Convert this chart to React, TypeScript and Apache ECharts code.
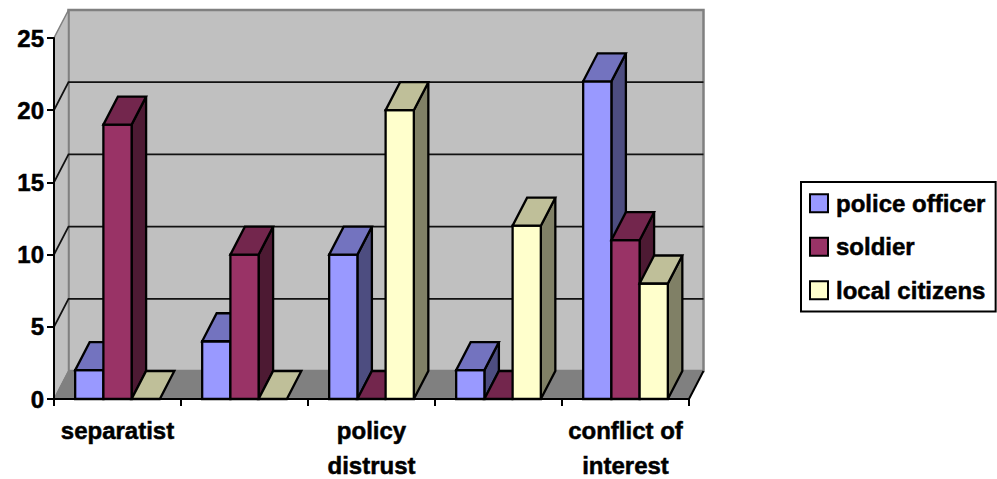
import React, { useEffect, useRef } from "react";
import * as echarts from "echarts";

const categories = ["separatist", "", "policy\ndistrust", "", "conflict of\ninterest"];
const policeOfficer = [2, 4, 10, 2, 22];
const soldier = [19, 10, 0, 0, 11];
const localCitizens = [0, 0, 20, 12, 8];
const innerGridValues = [5, 10, 15, 20];
const axisMax = 25;
const axisStep = 5;

const FONT = "Liberation Sans";
const DEPTH_X = 14.5;
const DEPTH_Y = 28;
const BAR_SLOTS = 4.5;
const OUTLINE = "#000000";
const OUTLINE_WIDTH = 2.3;

type Shade = { front: string; side: string; top: string };
const shades: Shade[] = [
  { front: "#9999ff", side: "#4d4d80", top: "#7373bf" },
  { front: "#993366", side: "#4d1a33", top: "#73264d" },
  { front: "#ffffcc", side: "#808066", top: "#bfbf99" },
];

const boldText = {
  color: "#000000",
  fontFamily: FONT,
  fontWeight: "bold",
  fontSize: 24,
  textBorderColor: "#000000",
  textBorderWidth: 0.5,
};

const poly = (points: number[][], fill: string, stroke: string, lineWidth: number) => ({
  type: "polygon",
  shape: { points },
  silent: true,
  style: { fill, stroke, lineWidth, lineJoin: "miter" },
});

// Side wall, floor and back wall of the box behind the bars.
const renderWalls = (_: any, api: any) => {
  const band = api.size([1, 0])[0];
  const left = api.coord([0, 0])[0] - band / 2;
  const right = api.coord([categories.length - 1, 0])[0] + band / 2;
  const bottom = api.coord([0, 0])[1];
  const top = api.coord([0, axisMax])[1];
  const gray = "#c0c0c0";
  const edge = "#808080";
  return {
    type: "group",
    children: [
      poly(
        [[left + DEPTH_X, bottom - DEPTH_Y], [right + DEPTH_X, bottom - DEPTH_Y], [right + DEPTH_X, top - DEPTH_Y], [left + DEPTH_X, top - DEPTH_Y]],
        gray, edge, 2.5
      ),
      poly(
        [[left, bottom], [left + DEPTH_X, bottom - DEPTH_Y], [left + DEPTH_X, top - DEPTH_Y], [left, top]],
        gray, edge, 1.5
      ),
      poly(
        [[left, bottom], [right, bottom], [right + DEPTH_X, bottom - DEPTH_Y], [left + DEPTH_X, bottom - DEPTH_Y]],
        edge, edge, 1
      ),
      {
        type: "line",
        silent: true,
        shape: { x1: right, y1: bottom, x2: right + DEPTH_X, y2: bottom - DEPTH_Y },
        style: { stroke: OUTLINE, lineWidth: 2 },
      },
    ],
  };
};

// A horizontal gridline: diagonal across the side wall, then along the back wall.
const renderGridLine = (_: any, api: any) => {
  const band = api.size([1, 0])[0];
  const value = api.value(1);
  const left = api.coord([0, value])[0] - band / 2;
  const right = api.coord([categories.length - 1, value])[0] + band / 2;
  const y = api.coord([0, value])[1];
  return {
    type: "polyline",
    silent: true,
    shape: { points: [[left, y], [left + DEPTH_X, y - DEPTH_Y], [right + DEPTH_X, y - DEPTH_Y]] },
    style: { fill: "none", stroke: "#111111", lineWidth: 1.8 },
  };
};

// A box-shaped bar: front, side and top faces.
const renderBar = (seriesIndex: number) => (_: any, api: any) => {
  const band = api.size([1, 0])[0];
  const barWidth = band / BAR_SLOTS;
  const [cx, yTop] = api.coord([api.value(0), api.value(1)]);
  const yBase = api.coord([api.value(0), 0])[1];
  const x0 = cx - band / 2 + barWidth * (0.75 + seriesIndex);
  const x1 = x0 + barWidth;
  const s = shades[seriesIndex];
  const children: any[] = [];
  if (yBase - yTop > 0) {
    children.push(
      poly([[x1, yBase], [x1 + DEPTH_X, yBase - DEPTH_Y], [x1 + DEPTH_X, yTop - DEPTH_Y], [x1, yTop]], s.side, OUTLINE, OUTLINE_WIDTH),
      poly([[x0, yBase], [x1, yBase], [x1, yTop], [x0, yTop]], s.front, OUTLINE, OUTLINE_WIDTH)
    );
  }
  children.push(
    poly([[x0, yTop], [x1, yTop], [x1 + DEPTH_X, yTop - DEPTH_Y], [x0 + DEPTH_X, yTop - DEPTH_Y]], s.top, OUTLINE, OUTLINE_WIDTH)
  );
  return { type: "group", children };
};

const barSeries = (name: string, values: number[], index: number) => ({
  name,
  type: "custom",
  z: 3 + index,
  silent: true,
  itemStyle: { color: shades[index].front },
  encode: { x: 0, y: 1 },
  data: values.map((v, i) => [i, v]),
  renderItem: renderBar(index),
});

export default function App() {
  const ref = useRef<HTMLDivElement>(null);

  useEffect(() => {
    const chart = echarts.init(ref.current!, undefined, { renderer: "svg" });
    chart.setOption({
      animation: false,
      backgroundColor: "#ffffff",
      textStyle: { fontFamily: FONT },
      grid: { left: 54, top: 38, width: 635, height: 361, containLabel: false, outerBoundsMode: "none" },
      xAxis: {
        type: "category",
        data: categories,
        z: 10,
        boundaryGap: true,
        axisLine: { onZero: false, lineStyle: { color: OUTLINE, width: 2 } },
        axisTick: { show: true, length: 7, alignWithLabel: false, lineStyle: { color: OUTLINE, width: 2 } },
        axisLabel: { ...boldText, interval: 0, margin: 14, lineHeight: 35, hideOverlap: false },
        splitLine: { show: false },
      },
      yAxis: {
        type: "value",
        min: 0,
        max: axisMax,
        interval: axisStep,
        z: 10,
        axisLine: { show: true, lineStyle: { color: OUTLINE, width: 2 } },
        axisTick: { show: true, length: 7, lineStyle: { color: OUTLINE, width: 2 } },
        axisLabel: { ...boldText, margin: 10 },
        splitLine: { show: false },
      },
      legend: {
        show: true,
        left: 801,
        top: 182,
        orient: "vertical",
        backgroundColor: "#ffffff",
        borderColor: OUTLINE,
        borderWidth: 2,
        padding: [9, 10, 9, 8],
        itemWidth: 18,
        itemHeight: 18,
        itemGap: 19,
        selectedMode: false,
        textStyle: { ...boldText, padding: [0, 0, 0, 3] },
        data: [
          { name: "police officer", icon: "rect", itemStyle: { color: shades[0].front, borderColor: OUTLINE, borderWidth: 2 } },
          { name: "soldier", icon: "rect", itemStyle: { color: shades[1].front, borderColor: OUTLINE, borderWidth: 2 } },
          { name: "local citizens", icon: "rect", itemStyle: { color: shades[2].front, borderColor: OUTLINE, borderWidth: 2 } },
        ],
      },
      series: [
        { type: "custom", name: "walls", z: 1, silent: true, encode: { x: 0, y: 1 }, data: [[0, 0]], renderItem: renderWalls },
        {
          type: "custom",
          name: "gridlines",
          z: 2,
          silent: true,
          encode: { x: 0, y: 1 },
          data: innerGridValues.map((v) => [0, v]),
          renderItem: renderGridLine,
        },
        barSeries("police officer", policeOfficer, 0),
        barSeries("soldier", soldier, 1),
        barSeries("local citizens", localCitizens, 2),
      ],
    });
    return () => chart.dispose();
  }, []);

  return <div ref={ref} style={{ position: "fixed", left: 0, top: 0, width: 997, height: 479 }} />;
}
